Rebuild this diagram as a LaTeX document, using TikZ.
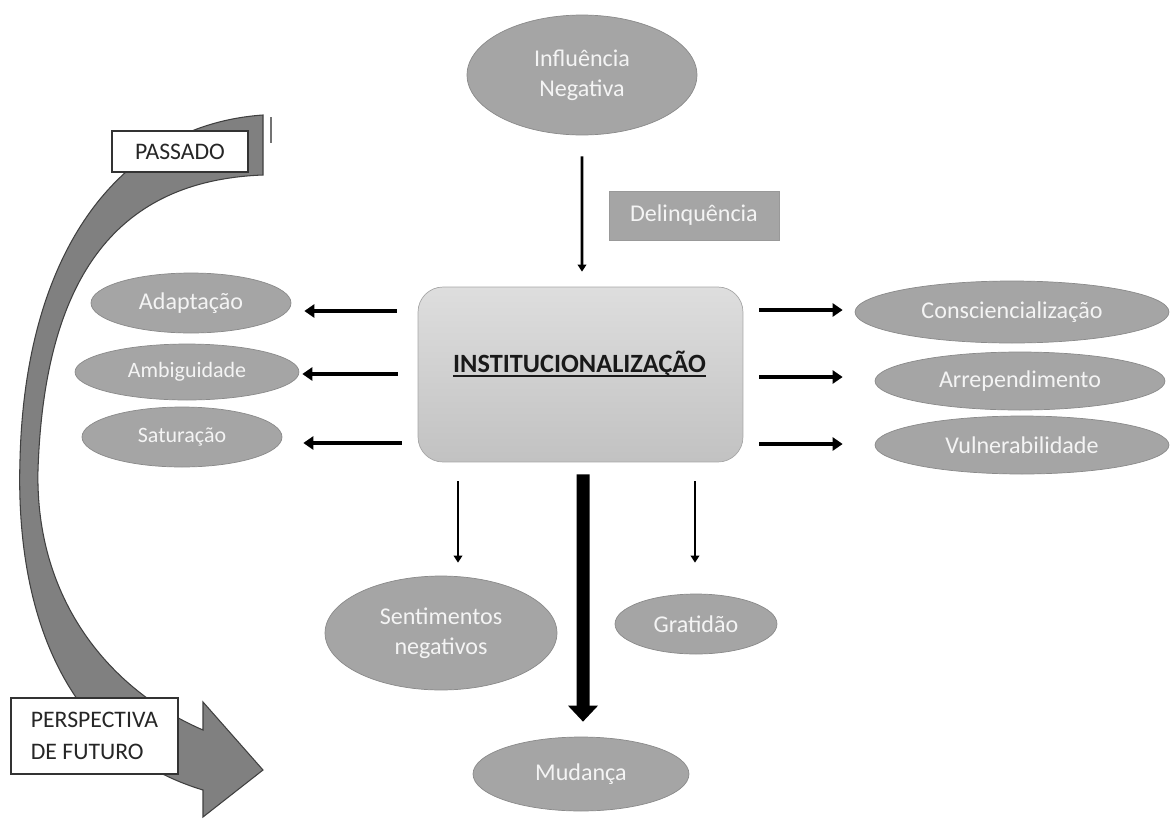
\documentclass[tikz,border=0pt]{standalone}
\usepackage{fontspec}
\setmainfont{Carlito}
\usetikzlibrary{positioning,arrows.meta,calc,shapes.geometric}

\definecolor{ovalgray}{HTML}{A5A5A5}
\definecolor{ovalline}{HTML}{8A8A8A}
\definecolor{bandgray}{HTML}{808080}
\definecolor{lighttext}{HTML}{F4F4F4}

\begin{document}
\begin{tikzpicture}[
            x=0.02cm, y=-0.02cm,
            % elipses cinzentas
            oval/.style={
                ellipse,
                draw=ovalline,
                fill=ovalgray,
                inner sep=0pt,
                align=center,
                text=lighttext,
                font=\fontsize{13.7}{17}\selectfont
            },
            smalloval/.style={oval, font=\fontsize{12.5}{15}\selectfont},
            % caixas brancas (tempo)
            timebox/.style={
                draw=black!80,
                fill=white,
                line width=0.7pt,
                inner sep=0pt,
                align=left,
                text=black!85,
                font=\fontsize{13.5}{18}\selectfont
            },
            % setas
            sidearrow/.style={-{Triangle[width=0.26cm,length=0.2cm]}, line width=2.8pt},
            thinarrow/.style={-{Triangle[width=0.17cm,length=0.14cm]}, line width=1.7pt},
            bigarrow/.style={-{Triangle[width=0.58cm,length=0.32cm]}, line width=0.26cm}
        ]
            \useasboundingbox (0,0) rectangle (1171,819);

            % --- SETA CURVA: PASSADO -> FUTURO ---
            \filldraw[fill=bandgray, draw=black!75, line width=0.6pt]
                (263,115) -- (263,175)
                .. controls (130,180) and (45,260) .. (38,470)
                .. controls (35,600) and (110,690) .. (203,730)
                -- (203,702) -- (263,770) -- (203,817) -- (203,790)
                .. controls (70,750) and (15,620) .. (20,460)
                .. controls (25,250) and (120,125) .. (263,115) -- cycle;
            \draw[black!55, line width=1pt] (271,117) -- (271,143);

            \node[timebox, minimum width=2.72cm, minimum height=0.82cm] (past) at (180,151.5) {PASSADO};
            \node[timebox, minimum width=3.34cm, minimum height=1.52cm] (future) at (94.5,736) {PERSPECTIVA\\DE FUTURO};

            % --- CENTRO ---
            \node[draw=black!35, top color=black!13, bottom color=black!24, rounded corners=0.5cm,
                  minimum width=6.5cm, minimum height=3.5cm] (inst) at (580.5,374.5) {};
            \node[inner sep=0pt, text=black!90, font=\fontsize{15}{18}\selectfont\bfseries]
                (insttxt) at ($(inst.center)+(-1,-11)$) {INSTITUCIONALIZAÇÃO};
            \draw[line width=1.1pt, black!90] ($(insttxt.base west)+(0,4)$) -- ($(insttxt.base east)+(0,4)$);

            % --- TOPO ---
            \node[oval, minimum width=4.6cm, minimum height=2.4cm] (infl) at (582,75) {Influência\\Negativa};
            \node[fill=ovalgray, draw=black!40, text=lighttext, font=\fontsize{13.7}{17}\selectfont,
                  minimum width=3.4cm, minimum height=0.98cm] (delinq) at (694,215.5) {Delinquência};
            \draw[thinarrow] ($(infl.south)+(0,21)$) -- ($(inst.north)+(1.5,-15)$);

            % --- ESQUERDA ---
            \node[oval, minimum width=4.0cm, minimum height=1.2cm] (adap) at (191,303) {Adaptação};
            \node[smalloval, minimum width=4.48cm, minimum height=1.12cm] (ambig) at (187,372) {Ambiguidade};
            \node[smalloval, minimum width=4.0cm, minimum height=1.2cm] (satur) at (182,437) {Saturação};

            \draw[sidearrow] ($(inst.west |- adap.east)+(-21,8)$) -- ($(adap.east)+(13,8)$);
            \draw[sidearrow] ($(inst.west |- ambig.east)+(-20,2)$) -- ($(ambig.east)+(3,2)$);
            \draw[sidearrow] ($(inst.west |- satur.east)+(-16,6)$) -- ($(satur.east)+(21,6)$);

            % --- DIREITA ---
            \node[oval, minimum width=6.28cm, minimum height=1.24cm] (consc) at (1012,312) {Consciencialização};
            \node[oval, minimum width=5.8cm, minimum height=1.16cm] (arrep) at (1020,381) {Arrependimento};
            \node[oval, minimum width=5.88cm, minimum height=1.16cm] (vulner) at (1022,445) {Vulnerabilidade};

            \draw[sidearrow] ($(inst.east |- consc.west)+(16,-2)$) -- ($(consc.west)+(-12,-2)$);
            \draw[sidearrow] ($(inst.east |- arrep.west)+(16,-4)$) -- ($(arrep.west)+(-32,-4)$);
            \draw[sidearrow] ($(inst.east |- vulner.west)+(16,-1)$) -- ($(vulner.west)+(-32,-1)$);

            % --- BAIXO ---
            \node[oval, minimum width=4.64cm, minimum height=2.28cm] (sent) at (441,633) {Sentimentos\\negativos};
            \node[oval, minimum width=3.24cm, minimum height=1.2cm] (grat) at (696,624) {Gratidão};
            \node[oval, minimum width=4.32cm, minimum height=1.48cm] (mud) at (581,774) {Mudança};

            \draw[thinarrow] ($(sent.north |- inst.south)+(17,19)$) -- ($(sent.north)+(17,-13)$);
            \draw[thinarrow] ($(grat.north |- inst.south)+(-1,19)$) -- ($(grat.north)+(-1,-31)$);
            \draw[bigarrow] ($(inst.south)+(2.5,12)$) -- ($(mud.north)+(2,-15)$);

        \end{tikzpicture}
\end{document}
